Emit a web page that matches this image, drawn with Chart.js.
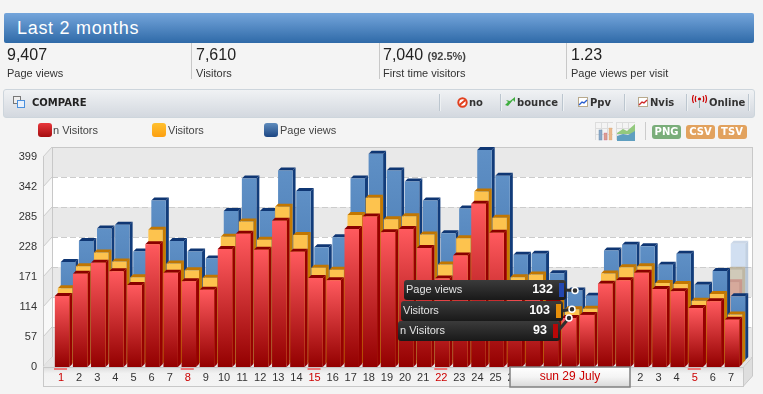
<!DOCTYPE html>
<html>
<head>
<meta charset="utf-8">
<title>Last 2 months</title>
<script src="https://cdn.jsdelivr.net/npm/chart.js@4/dist/chart.umd.min.js"></script>
<style>
html, body { margin: 0; padding: 0; background: #f4f4f4; overflow: hidden; }
body { width: 763px; height: 394px; position: relative; font-family: "Liberation Sans", Arial, sans-serif; color: #222; }
#chartCanvas { position: absolute; left: 0; top: 0; }
.abs { position: absolute; white-space: nowrap; }
#titleBar { left: 4px; top: 13px; width: 750px; height: 30px; border-radius: 2px; background: linear-gradient(#74a5db, #2f6aa8); }
#titleBar span { position: absolute; left: 13px; top: 5px; font-size: 18px; color: #fff; letter-spacing: .7px; }
.stat { top: 43px; height: 36px; border-right: 1px solid #c8c8c8; }
.stat b { position: absolute; left: 0; top: 3px; font-weight: normal; font-size: 16px; color: #222; }
.stat b small { font-size: 11px; font-weight: bold; color: #444; }
.stat i { position: absolute; left: 0; top: 24px; font-style: normal; font-size: 11px; color: #333; }
#compareBar { left: 3px; top: 89px; width: 750px; height: 27px; border: 1px solid #cdd5dc; border-radius: 3px; background: linear-gradient(#f0f2f4, #d3d8df); }
.tool { top: 97px; font: bold 10px "DejaVu Sans", Verdana, sans-serif; color: #333; }
.sep { top: 94px; width: 1px; height: 17px; background: #bcc6cf; border-right: 1px solid #eef1f3; }
.swatch { width: 14px; height: 14px; top: 123px; border-radius: 3px; }
.legendText { top: 124px; font-size: 11px; color: #444; }
.btn { top: 125px; width: 29px; height: 14px; border-radius: 3px; color: #fff; text-align: center; font: bold 10px/14px "DejaVu Sans", Verdana, sans-serif; }
svg { position: absolute; }
</style>
</head>
<body>
<canvas id="chartCanvas" width="763" height="394"></canvas>

<div class="abs" id="titleBar"><span>Last 2 months</span></div>
<div class="abs stat" style="left:7px;width:184px"><b>9,407</b><i>Page views</i></div>
<div class="abs stat" style="left:196px;width:183px"><b>7,610</b><i>Visitors</i></div>
<div class="abs stat" style="left:383px;width:183px"><b>7,040 <small>(92.5%)</small></b><i>First time visitors</i></div>
<div class="abs stat" style="left:571px;border:0"><b>1.23</b><i>Page views per visit</i></div>

<div class="abs" id="compareBar"></div>
<svg style="left:13px;top:96px" width="13" height="13"><rect x=".5" y=".5" width="7" height="7" fill="#eee" stroke="#777"/><rect x="4.5" y="4.5" width="7" height="7" fill="#e8f1fc" stroke="#4a90dd"/></svg>
<div class="abs tool" style="left:32px;top:97px;color:#222">COMPARE</div>
<div class="abs sep" style="left:439px"></div>
<div class="abs sep" style="left:500px"></div>
<div class="abs sep" style="left:562px"></div>
<div class="abs sep" style="left:624px"></div>
<div class="abs sep" style="left:686px"></div>
<div class="abs sep" style="left:748px"></div>
<svg style="left:457px;top:97px" width="11" height="11"><circle cx="5.5" cy="5.5" r="4.2" fill="#fff" stroke="#e2401e" stroke-width="2"/><line x1="2.5" y1="8" x2="8.5" y2="3" stroke="#e2401e" stroke-width="2"/></svg>
<div class="abs tool" style="left:469px">no</div>
<svg style="left:505px;top:97px" width="11" height="10"><path d="M0 8 L3 5 L1 3 L5 4 L10 0 L10 5 L8 3 L3 9 Z" fill="#3fae3f"/></svg>
<div class="abs tool" style="left:517px">bounce</div>
<svg style="left:578px;top:97px" width="10" height="10"><rect x=".5" y=".5" width="9" height="9" fill="#fff" stroke="#b8a98c"/><path d="M1 8 L4 5 L6 6 L9 3" fill="none" stroke="#2a5fd0" stroke-width="1.4"/></svg>
<div class="abs tool" style="left:590px">Ppv</div>
<svg style="left:638px;top:97px" width="10" height="10"><rect x=".5" y=".5" width="9" height="9" fill="#fff" stroke="#b8a98c"/><path d="M1 8 L4 5 L6 6 L9 3" fill="none" stroke="#d02a2a" stroke-width="1.4"/></svg>
<div class="abs tool" style="left:650px">Nvis</div>
<svg style="left:691px;top:95px" width="17" height="13"><circle cx="8.5" cy="4" r="1.6" fill="#c00"/><path d="M5 1 Q3.5 4 5 7 M12 1 Q13.5 4 12 7 M2.5 0 Q.5 4 2.5 8 M14.5 0 Q16.5 4 14.5 8" fill="none" stroke="#c00" stroke-width="1.2"/><line x1="8.5" y1="5" x2="8.5" y2="13" stroke="#8aa" stroke-width="1"/></svg>
<div class="abs tool" style="left:709px">Online</div>

<div class="abs swatch" style="left:38px;background:linear-gradient(#e8373c,#a50d10)"></div>
<div class="abs legendText" style="left:53px">n Visitors</div>
<div class="abs swatch" style="left:152px;background:linear-gradient(#ffc02f,#fc9f10)"></div>
<div class="abs legendText" style="left:168px">Visitors</div>
<div class="abs swatch" style="left:264px;background:linear-gradient(#5f8cbd,#1c4683)"></div>
<div class="abs legendText" style="left:280px">Page views</div>

<svg style="left:595px;top:122px" width="18" height="19"><path d="M.5 0V18M6.5 0V18M12.5 0V18M0 .5H18M0 6.5H18M0 12.5H18" stroke="#ddd" fill="none"/><rect x="4" y="8" width="3" height="10" fill="#8aa9c8" stroke="#6d8fb0" stroke-width=".5"/><rect x="9" y="11" width="3" height="7" fill="#dba08f" stroke="#c58" stroke-width=".3"/><rect x="14" y="6" width="3" height="12" fill="#e9b98c" stroke="#d9a06c" stroke-width=".3"/></svg>
<svg style="left:616px;top:122px" width="19" height="19"><path d="M.5 0V18M6.5 0V18M12.5 0V18M0 .5H19M0 6.5H19M0 12.5H19" stroke="#ddd" fill="none"/><path d="M1 11 L7 7 L11 9 L19 2 V12 H1Z" fill="#93c97e"/><path d="M1 14 L7 12 L12 13 L19 9 V19 H1Z" fill="#5f9fc0"/></svg>
<div class="abs" style="left:645px;top:122px;width:1px;height:18px;background:#ccc"></div>
<div class="abs btn" style="left:652px;background:#7aae7a">PNG</div>
<div class="abs btn" style="left:686px;background:#e2a25e">CSV</div>
<div class="abs btn" style="left:717.5px;background:#e2a25e">TSV</div>

<script>
// Days of 1 July - 7 August
const categories = ['1','2','3','4','5','6','7','8','9','10','11','12','13','14','15','16','17','18','19','20','21','22','23','24','25','26','27','28','29','30','31','1','2','3','4','5','6','7'];
const nVisitors = [135,177,198,182,156,233,179,163,147,224,253,223,278,219,169,165,262,286,256,262,226,168,212,310,255,155,158,122,93,99,158,165,179,148,144,112,125,90];
const visitors = [143,185,211,194,164,254,190,177,163,241,270,235,298,244,182,178,282,315,274,280,245,188,238,327,277,164,169,135,103,104,171,183,185,153,151,119,132,93];
const pageViews = [186,226,250,257,206,303,226,206,193,283,345,283,360,321,214,233,345,392,360,339,303,241,288,399,350,200,202,165,132,122,208,219,216,181,202,143,169,121];
// Fading hover marks left on the last day
const fadeNVisitors = [null,null,null,null,null,null,null,null,null,null,null,null,null,null,null,null,null,null,null,null,null,null,null,null,null,null,null,null,null,null,null,null,null,null,null,null,null,161];
const fadeVisitors = [null,null,null,null,null,null,null,null,null,null,null,null,null,null,null,null,null,null,null,null,null,null,null,null,null,null,null,null,null,null,null,null,null,null,null,null,null,178];
const fadePageViews = [null,null,null,null,null,null,null,null,null,null,null,null,null,null,null,null,null,null,null,null,null,null,null,null,null,null,null,null,null,null,null,null,null,null,null,null,null,221];
const yTicks = [0,57,114,171,228,285,342,399];
const sundays = [0,7,14,21,28,35];
const selectedDay = 28;
const selectedLabel = 'sun 29 July';
const seriesNames = ['n Visitors','Visitors','Page views'];

const DEPTH = { x: 3, y: 3 };
const WALL = { x: 9, y: -10 };
// layer offsets for the fake 3D look, one per dataset
const layers = [
    { x: 1, y: 0 }, { x: 4, y: -3.5 }, { x: 7, y: -7 },
    { x: 1, y: 0 }, { x: 4, y: -3.5 }, { x: 7, y: -7 }
];
const sideColors = ['#960000','#c67a00','#123c7a','rgba(190,60,60,.35)','rgba(170,120,30,.35)','rgba(120,150,190,.45)'];
const topColors = ['#8a0000','#c27600','#0f3673','rgba(190,60,60,.35)','rgba(170,120,30,.35)','rgba(190,205,225,.8)'];

function barGradient(top, bottom) {
    return (ctx) => {
        const chart = ctx.chart;
        if (!chart.chartArea || ctx.raw == null) return bottom;
        const y = chart.scales.y;
        const g = chart.ctx.createLinearGradient(0, y.getPixelForValue(ctx.raw), 0, y.getPixelForValue(0));
        g.addColorStop(0, top);
        g.addColorStop(1, bottom);
        return g;
    };
}

// Back wall, left wall, floor and the label strip, below everything else
const wallsPlugin = {
    id: 'walls',
    beforeDraw(chart) {
        const { ctx, scales: { y }, chartArea: area } = chart;
        const left = area.left - WALL.x;
        const right = 752;
        const front = right - WALL.x;
        const zero = y.getPixelForValue(0);
        ctx.save();

        // bands, top one is grey
        for (let i = yTicks.length - 1; i > 0; i--) {
            const y1 = y.getPixelForValue(yTicks[i]);
            const y0 = y.getPixelForValue(yTicks[i - 1]);
            const grey = (yTicks.length - 1 - i) % 2 === 0;
            ctx.fillStyle = grey ? '#e9e9e9' : '#ffffff';
            ctx.fillRect(area.left, y1 + WALL.y, right - area.left, y0 - y1);
            ctx.fillStyle = grey ? '#eaeaea' : '#f8f8f8';
            ctx.beginPath();
            ctx.moveTo(left, y1);
            ctx.lineTo(area.left, y1 + WALL.y);
            ctx.lineTo(area.left, y0 + WALL.y);
            ctx.lineTo(left, y0);
            ctx.closePath();
            ctx.fill();
        }

        // dashed grid on the back wall
        ctx.strokeStyle = '#cccccc';
        ctx.lineWidth = 1;
        ctx.setLineDash([6, 3]);
        yTicks.slice(1, -1).forEach((v) => {
            const py = Math.round(y.getPixelForValue(v) + WALL.y) + 0.5;
            ctx.beginPath();
            ctx.moveTo(area.left, py);
            ctx.lineTo(right, py);
            ctx.stroke();
        });
        ctx.setLineDash([]);
        yTicks.forEach((v) => {
            const py = y.getPixelForValue(v);
            ctx.beginPath();
            ctx.moveTo(left, py);
            ctx.lineTo(area.left, py + WALL.y);
            ctx.stroke();
        });

        // frame
        ctx.strokeStyle = '#c8c8c8';
        ctx.strokeRect(area.left + 0.5, y.getPixelForValue(399) + WALL.y + 0.5, right - area.left, zero - y.getPixelForValue(399));
        ctx.beginPath();
        ctx.moveTo(left + 0.5, y.getPixelForValue(399));
        ctx.lineTo(left + 0.5, zero);
        ctx.stroke();

        // floor
        ctx.fillStyle = '#e4e4e4';
        ctx.beginPath();
        ctx.moveTo(left, zero);
        ctx.lineTo(area.left, zero + WALL.y);
        ctx.lineTo(right, zero + WALL.y);
        ctx.lineTo(front, zero);
        ctx.closePath();
        ctx.fill();

        // strip under the bars
        const strip = ctx.createLinearGradient(0, zero, 0, zero + 19);
        strip.addColorStop(0, '#dcdcdc');
        strip.addColorStop(0.35, '#f2f2f2');
        strip.addColorStop(1, '#f4f4f4');
        ctx.fillStyle = strip;
        ctx.fillRect(left, zero, front - left, 19);
        ctx.strokeStyle = '#c8c8c8';
        ctx.strokeRect(left + 0.5, zero + 0.5, front - left, 19);
        ctx.fillStyle = '#dedede';
        ctx.beginPath();
        ctx.moveTo(front + 0.5, zero);
        ctx.lineTo(right + 0.5, zero + WALL.y);
        ctx.lineTo(right + 0.5, zero + WALL.y + 19);
        ctx.lineTo(front + 0.5, zero + 19);
        ctx.closePath();
        ctx.fill();
        ctx.stroke();
        ctx.restore();
    }
};

// Side and top faces; the library draws the front face inside the same translate
const extrudePlugin = {
    id: 'extrude',
    beforeDatasetDraw(chart, args) {
        const { ctx } = chart;
        const layer = layers[args.index];
        ctx.save();
        ctx.translate(layer.x, layer.y);
        args.meta.data.forEach((bar, i) => {
            if (chart.data.datasets[args.index].data[i] == null) return;
            const l = bar.x - bar.width / 2;
            const r = bar.x + bar.width / 2;
            ctx.fillStyle = sideColors[args.index];
            ctx.beginPath();
            ctx.moveTo(r, bar.y);
            ctx.lineTo(r + DEPTH.x, bar.y - DEPTH.y);
            ctx.lineTo(r + DEPTH.x, bar.base - DEPTH.y);
            ctx.lineTo(r, bar.base);
            ctx.closePath();
            ctx.fill();
            ctx.fillStyle = topColors[args.index];
            ctx.beginPath();
            ctx.moveTo(l, bar.y);
            ctx.lineTo(l + DEPTH.x, bar.y - DEPTH.y);
            ctx.lineTo(r + DEPTH.x, bar.y - DEPTH.y);
            ctx.lineTo(r, bar.y);
            ctx.closePath();
            ctx.fill();
        });
    },
    afterDatasetDraw(chart) {
        chart.ctx.restore();
    }
};

// Sunday marks, selected day box and the hover callouts
const overlayPlugin = {
    id: 'overlay',
    afterDraw(chart) {
        const { ctx, scales: { x, y } } = chart;
        const zero = y.getPixelForValue(0);
        ctx.save();

        ctx.fillStyle = '#f07878';
        sundays.forEach((i) => {
            if (i !== selectedDay) ctx.fillRect(x.getPixelForValue(i) - 7, zero + 1, 13, 2);
        });

        const cx = x.getPixelForValue(selectedDay);
        const box = ctx.createLinearGradient(0, zero, 0, zero + 20);
        box.addColorStop(0, '#ffffff');
        box.addColorStop(0.5, '#f4f4f4');
        box.addColorStop(1, '#d8d8d8');
        ctx.fillStyle = box;
        ctx.fillRect(cx - 58, zero, 120, 20);
        ctx.strokeStyle = '#808080';
        ctx.lineWidth = 1.5;
        ctx.strokeRect(cx - 58, zero, 120, 20);
        ctx.fillStyle = '#cc0000';
        ctx.font = '12px "Liberation Sans", Arial, sans-serif';
        ctx.textAlign = 'center';
        ctx.textBaseline = 'middle';
        ctx.fillText(selectedLabel, cx + 2, zero + 10);

        // top row is Page views, each row steps 3px left
        const rows = [
            { ds: 2, boxX: 404, boxY: 280, swatch: '#2347b0' },
            { ds: 1, boxX: 401, boxY: 301, swatch: '#e58e0a' },
            { ds: 0, boxX: 398, boxY: 321, swatch: '#b80808' }
        ];
        rows.forEach((row) => {
            const bar = chart.getDatasetMeta(row.ds).data[selectedDay];
            const layer = layers[row.ds];
            const dotX = bar.x + layer.x;
            const dotY = bar.y + layer.y;
            const w = 162;
            const h = 20;
            ctx.strokeStyle = '#2e2e2e';
            ctx.lineWidth = 3;
            ctx.beginPath();
            ctx.moveTo(row.boxX + w - 2, row.boxY + h / 2);
            ctx.lineTo(dotX, dotY);
            ctx.stroke();

            const g = ctx.createLinearGradient(0, row.boxY, 0, row.boxY + h);
            g.addColorStop(0, '#3b3b3b');
            g.addColorStop(1, '#191919');
            ctx.fillStyle = g;
            ctx.beginPath();
            ctx.roundRect(row.boxX, row.boxY, w, h, 3);
            ctx.fill();

            ctx.fillStyle = row.swatch;
            ctx.fillRect(row.boxX + w - 7, row.boxY + 3, 5, 14);

            ctx.fillStyle = '#e4e4e4';
            ctx.font = '11px "Liberation Sans", Arial, sans-serif';
            ctx.textAlign = 'left';
            ctx.fillText(seriesNames[row.ds], row.boxX + 2, row.boxY + h / 2);
            ctx.fillStyle = '#ffffff';
            ctx.font = 'bold 12.5px "Liberation Sans", Arial, sans-serif';
            ctx.textAlign = 'right';
            ctx.fillText(String(chart.data.datasets[row.ds].data[selectedDay]), row.boxX + w - 13, row.boxY + h / 2);

            ctx.fillStyle = '#2e2e2e';
            ctx.strokeStyle = '#ffffff';
            ctx.lineWidth = 1.5;
            ctx.beginPath();
            ctx.arc(dotX, dotY, 3, 0, Math.PI * 2);
            ctx.fill();
            ctx.stroke();
        });
        ctx.restore();
    }
};

const barDefaults = { grouped: false, barPercentage: 0.8, categoryPercentage: 1, borderWidth: 0, clip: false };

new Chart(document.getElementById('chartCanvas'), {
    type: 'bar',
    data: {
        labels: categories,
        datasets: [
            { label: seriesNames[0], data: nVisitors, backgroundColor: barGradient('#ff5a5e', '#930000'), ...barDefaults },
            { label: seriesNames[1], data: visitors, backgroundColor: '#fdc34e', ...barDefaults },
            { label: seriesNames[2], data: pageViews, backgroundColor: barGradient('#5f90c6', '#3a6ba3'), ...barDefaults },
            { label: 'fade 1', data: fadeNVisitors, backgroundColor: 'rgba(225,110,100,.35)', ...barDefaults },
            { label: 'fade 2', data: fadeVisitors, backgroundColor: 'rgba(215,180,110,.4)', ...barDefaults },
            { label: 'fade 3', data: fadePageViews, backgroundColor: 'rgba(190,210,235,.7)', ...barDefaults }
        ]
    },
    options: {
        responsive: false,
        animation: false,
        events: [],
        layout: { padding: { top: 157, right: 23, bottom: 0, left: 0 } },
        plugins: { legend: { display: false }, tooltip: { enabled: false } },
        scales: {
            x: {
                offset: true,
                grid: { display: false, drawTicks: false },
                border: { display: false },
                afterFit: (scale) => { scale.height = 27; },
                ticks: {
                    autoSkip: false,
                    maxRotation: 0,
                    padding: 4,
                    font: { family: '"Liberation Sans", Arial, sans-serif', size: 11 },
                    color: (ctx) => sundays.includes(ctx.index) ? '#cc0000' : '#333333'
                }
            },
            y: {
                min: 0,
                max: 399,
                afterBuildTicks: (scale) => { scale.ticks = yTicks.map((value) => ({ value })); },
                afterFit: (scale) => { scale.width = 52; },
                grid: { display: false, drawTicks: false },
                border: { display: false },
                ticks: {
                    padding: 15,
                    font: { family: '"Liberation Sans", Arial, sans-serif', size: 11 },
                    color: '#333333'
                }
            }
        }
    },
    plugins: [wallsPlugin, extrudePlugin, overlayPlugin]
});
</script>
</body>
</html>
